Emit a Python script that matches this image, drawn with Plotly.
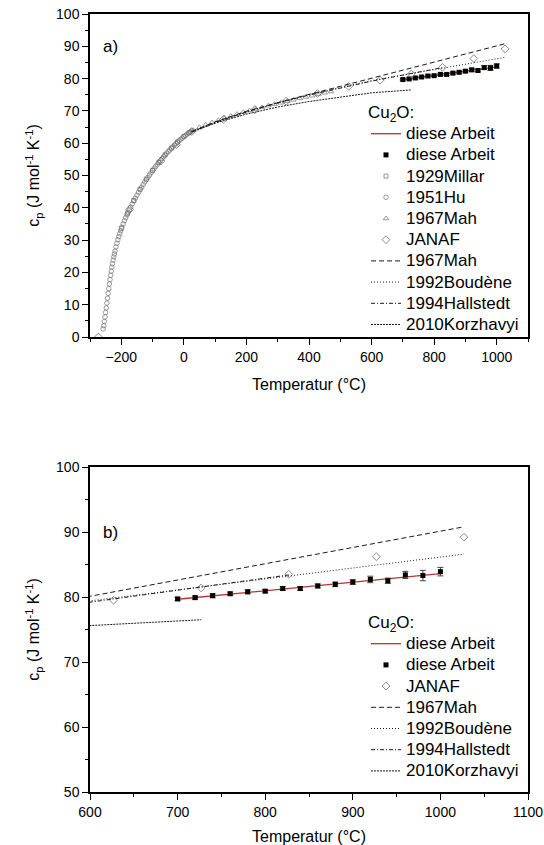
import plotly.graph_objects as go

# ---------------- data ----------------
# this work (measured)
T_dA = [700, 720, 740, 760, 780, 800, 820, 840, 860, 880, 900, 920, 940, 960, 980, 1000]
cp_dA = [79.7, 79.9, 80.2, 80.5, 80.8, 80.9, 81.3, 81.3, 81.7, 81.95, 82.3, 82.7, 82.5, 83.4, 83.3, 83.9]
err_dA = [0.25, 0.25, 0.3, 0.25, 0.3, 0.25, 0.3, 0.3, 0.3, 0.35, 0.35, 0.5, 0.4, 0.55, 0.8, 0.65]
# this work (fit line)
T_fit = [700, 1000]
cp_fit = [79.65, 83.6]

# 1929 Millar
T_millar = [-200, -180, -160, -140, -120, -100, -80, -60, -40, -20, 0, 17]
cp_millar = [33.6, 38.3, 42.3, 45.8, 48.9, 51.6, 54.1, 56.4, 58.5, 60.4, 62.1, 63.3]

# 1951 Hu
T_hu = [-258, -256, -254, -252, -250, -248, -246, -244, -242, -240, -238, -236, -234, -232,
        -230, -228, -226, -224, -222, -220, -217, -214, -211, -208, -205, -202, -198, -194,
        -190, -186, -182, -178, -174, -170, -165, -160, -155, -150, -145, -140, -135, -130,
        -125, -120, -115, -110, -105, -100, -95, -90, -85, -80, -75, -70, -65, -60, -55, -50,
        -45, -40, -35, -30, -25, -20, -15, -10, -5, 0, 5, 10, 15, 20, 25]
cp_hu = [2.5, 3.5, 4.8, 6.2, 7.6, 9.0, 10.5, 12.0, 13.5, 15.0, 16.4, 17.8, 19.1, 20.4,
         21.6, 22.7, 23.8, 24.8, 25.7, 26.6, 27.9, 29.0, 30.1, 31.1, 32.0, 32.9, 34.0, 35.0,
         36.0, 36.9, 37.8, 38.6, 39.4, 40.2, 41.2, 42.1, 43.0, 43.9, 44.8, 45.6, 46.4, 47.2,
         48.0, 48.7, 49.4, 50.1, 50.8, 51.5, 52.1, 52.8, 53.4, 54.0, 54.6, 55.2, 55.8, 56.3,
         56.9, 57.4, 57.9, 58.4, 58.9, 59.4, 59.9, 60.3, 60.8, 61.2, 61.6, 62.0, 62.4, 62.8,
         63.1, 63.5, 63.8]

# 1967 Mah (points)
T_mah_pts = [30, 50, 70, 90, 110, 130, 150, 170, 190, 210, 230, 250, 270, 290, 310, 330,
             350, 370, 390, 410, 430, 450, 470]
cp_mah_pts = [64.0, 64.9, 65.7, 66.4, 67.1, 67.8, 68.4, 69.0, 69.6, 70.1, 70.6, 71.1, 71.6,
              72.1, 72.5, 73.0, 73.4, 73.9, 74.3, 74.7, 75.2, 75.6, 76.0]

# JANAF
T_janaf = [-273.15, -173.15, -73.15, -23.15, 25, 126.85, 226.85, 326.85, 426.85, 526.85,
           626.85, 726.85, 826.85, 926.85, 1026.85]
cp_janaf = [0.0, 39.5, 54.5, 59.6, 63.6, 67.4, 70.4, 73.0, 75.4, 77.6, 79.5, 81.4, 83.5,
            86.2, 89.2]

# model curves
T_mah = [25, 100, 200, 300, 400, 500, 600, 700, 800, 900, 1027]
cp_mah = [63.6, 66.6, 69.9, 72.6, 75.1, 77.6, 80.1, 82.6, 85.1, 87.6, 90.8]

T_boud = [25, 100, 200, 300, 400, 500, 600, 700, 800, 900, 1027]
cp_boud = [63.6, 66.5, 69.6, 72.5, 75.0, 77.3, 79.4, 81.1, 82.8, 84.5, 86.6]

T_hall = [25, 100, 200, 300, 400, 500, 600, 700, 827]
cp_hall = [63.6, 66.5, 69.7, 72.5, 74.9, 77.1, 79.2, 81.1, 83.4]

T_korz = [25, 100, 200, 300, 400, 500, 600, 727]
cp_korz = [63.4, 66.2, 69.0, 71.2, 72.9, 74.3, 75.6, 76.5]

# ---------------- styling ----------------
FONT = "Liberation Sans, Arial, sans-serif"
RED = "#b83434"
GREY = "#707070"
LINEC = "#1a1a1a"

W, H = 544, 845


def px(x):
    return x / W


def py(y):
    return 1 - y / H


def lbl(s):
    return '<span style="font-size:17px">' + s + '</span>'


fig = go.Figure()


def add_panel(xa, ya, leg, full):
    fig.add_trace(go.Scatter(x=T_fit, y=cp_fit, mode="lines", name=lbl("diese Arbeit"),
                             line=dict(color=RED, width=1.3), xaxis=xa, yaxis=ya, legend=leg))
    fig.add_trace(go.Scatter(x=T_dA, y=cp_dA, mode="markers", name=lbl("diese Arbeit"),
                             marker=dict(symbol="square", size=5, color="black"),
                             error_y=dict(type="data", array=err_dA, color="#444",
                                          thickness=1, width=3),
                             xaxis=xa, yaxis=ya, legend=leg))
    if full:
        fig.add_trace(go.Scatter(x=T_millar, y=cp_millar, mode="markers", name=lbl("1929Millar"),
                                 marker=dict(symbol="square-open", size=4, color=GREY,
                                             line=dict(width=0.7)),
                                 xaxis=xa, yaxis=ya, legend=leg))
        fig.add_trace(go.Scatter(x=T_hu, y=cp_hu, mode="markers", name=lbl("1951Hu"),
                                 marker=dict(symbol="circle-open", size=4.5, color=GREY,
                                             line=dict(width=0.7)),
                                 xaxis=xa, yaxis=ya, legend=leg))
        fig.add_trace(go.Scatter(x=T_mah_pts, y=cp_mah_pts, mode="markers", name=lbl("1967Mah"),
                                 marker=dict(symbol="triangle-up-open", size=5, color=GREY,
                                             line=dict(width=0.7)),
                                 xaxis=xa, yaxis=ya, legend=leg))
    fig.add_trace(go.Scatter(x=T_janaf, y=cp_janaf, mode="markers", name=lbl("JANAF"),
                             marker=dict(symbol="diamond-open", size=6, color=GREY,
                                         line=dict(width=0.8)),
                             xaxis=xa, yaxis=ya, legend=leg))
    fig.add_trace(go.Scatter(x=T_mah, y=cp_mah, mode="lines", name=lbl("1967Mah"),
                             line=dict(color=LINEC, width=1, dash="5px,3px"),
                             xaxis=xa, yaxis=ya, legend=leg))
    fig.add_trace(go.Scatter(x=T_boud, y=cp_boud, mode="lines", name=lbl("1992Boudène"),
                             line=dict(color=LINEC, width=1, dash="1px,2px"),
                             xaxis=xa, yaxis=ya, legend=leg))
    fig.add_trace(go.Scatter(x=T_hall, y=cp_hall, mode="lines", name=lbl("1994Hallstedt"),
                             line=dict(color=LINEC, width=1, dash="4px,2px,1px,2px"),
                             xaxis=xa, yaxis=ya, legend=leg))
    fig.add_trace(go.Scatter(x=T_korz, y=cp_korz, mode="lines", name=lbl("2010Korzhavyi"),
                             line=dict(color=LINEC, width=1, dash="2px,1px"),
                             xaxis=xa, yaxis=ya, legend=leg))


add_panel("x", "y", "legend", True)
add_panel("x2", "y2", "legend2", False)

xdom = [px(90), px(528)]
ydom_top = [py(337), py(14)]
ydom_bot = [py(792), py(467)]

tickfont = dict(family=FONT, size=14, color="black")
titlefont = dict(family=FONT, size=16, color="black")
ytitle = "c<sub>p</sub> (J mol<sup>-1</sup> K<sup>-1</sup>)"


def main_x(rng, dtick, minor, dom, anchor, title):
    return dict(domain=dom, range=rng, dtick=dtick, tick0=0, anchor=anchor, automargin=False,
                showline=True, linecolor="black", linewidth=1.5, mirror=True,
                ticks="outside", ticklen=6, tickwidth=1.2, tickcolor="black",
                minor=dict(dtick=minor, ticks="outside", ticklen=3, tickwidth=1.2,
                           tickcolor="black", showgrid=False),
                showgrid=False, zeroline=False, tickfont=tickfont, ticklabeloverflow="allow",
                title=dict(text=title, font=titlefont, standoff=15))


def main_y(rng, dom, anchor):
    return dict(domain=dom, range=rng, dtick=10, tick0=0, anchor=anchor, automargin=False,
                showline=True, linecolor="black", linewidth=1.5, mirror=True,
                ticks="outside", ticklen=6, tickwidth=1.2, tickcolor="black",
                minor=dict(dtick=5, ticks="outside", ticklen=3, tickwidth=1.2,
                           tickcolor="black", showgrid=False),
                showgrid=False, zeroline=False, tickfont=tickfont, ticklabeloverflow="allow",
                title=dict(text=ytitle, font=titlefont, standoff=12))


def mirror_x(rng, dtick, minor, dom, anchor, over):
    return dict(domain=dom, range=rng, dtick=dtick, tick0=0, anchor=anchor, automargin=False,
                overlaying=over, side="top", showline=False, showticklabels=False,
                ticks="inside", ticklen=6, tickwidth=1.2, tickcolor="black",
                minor=dict(dtick=minor, ticks="inside", ticklen=3, tickwidth=1.2,
                           tickcolor="black", showgrid=False),
                showgrid=False, zeroline=False)


def mirror_y(rng, dom, anchor, over):
    return dict(domain=dom, range=rng, dtick=10, tick0=0, anchor=anchor, automargin=False,
                overlaying=over, side="right", showline=False, showticklabels=False,
                ticks="inside", ticklen=6, tickwidth=1.2, tickcolor="black",
                minor=dict(dtick=5, ticks="inside", ticklen=3, tickwidth=1.2,
                           tickcolor="black", showgrid=False),
                showgrid=False, zeroline=False)


legend_common = dict(font=dict(family=FONT, size=14, color="black"),
                     bgcolor="rgba(0,0,0,0)", borderwidth=0,
                     xanchor="left", yanchor="top", itemwidth=30,
                     title=dict(text="Cu<sub>2</sub>O:", font=dict(family=FONT, size=17)))

fig.update_layout(
    width=W, height=H, margin=dict(l=0, r=0, t=0, b=0, autoexpand=False),
    plot_bgcolor="white", paper_bgcolor="white",
    font=dict(family=FONT, size=14, color="black"),
    xaxis=main_x([-300, 1100], 200, 100, xdom, "y", "Temperatur (°C)"),
    yaxis=main_y([0, 100], ydom_top, "x"),
    xaxis2=main_x([600, 1100], 100, 50, xdom, "y2", "Temperatur (°C)"),
    yaxis2=main_y([50, 100], ydom_bot, "x2"),
    xaxis3=mirror_x([-300, 1100], 200, 100, xdom, "y", "x"),
    yaxis3=mirror_y([0, 100], ydom_top, "x", "y"),
    xaxis4=mirror_x([600, 1100], 100, 50, xdom, "y2", "x2"),
    yaxis4=mirror_y([50, 100], ydom_bot, "x2", "y2"),
    legend=dict(x=px(366), y=py(96), **legend_common),
    legend2=dict(x=px(366), y=py(606), **legend_common),
    showlegend=True,
    annotations=[
        dict(text="a)", x=-300, y=90, xref="x", yref="y", xanchor="left", yanchor="middle",
             xshift=11, showarrow=False, font=dict(family=FONT, size=17)),
        dict(text="b)", x=600, y=90, xref="x2", yref="y2", xanchor="left", yanchor="middle",
             xshift=11, showarrow=False, font=dict(family=FONT, size=17)),
    ],
)

# remove the default 8 px page margin so the 544x845 figure fills the window exactly
fig.write_html("out.html", config={"displayModeBar": False},
               post_script="document.body.style.margin='0';document.body.style.overflow='hidden';")
